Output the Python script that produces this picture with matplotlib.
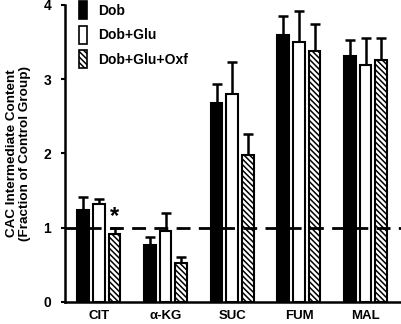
import matplotlib
matplotlib.use("Agg")
import matplotlib.pyplot as plt
import numpy as np
from matplotlib.patches import Patch

plt.rcParams['font.family'] = ['Liberation Sans', 'DejaVu Sans']
plt.rcParams['font.weight'] = 'bold'
plt.rcParams['hatch.linewidth'] = 1.1

categories = ["CIT", "α-KG", "SUC", "FUM", "MAL"]
series_names = ["Dob", "Dob+Glu", "Dob+Glu+Oxf"]
dob = [1.24, 0.77, 2.68, 3.59, 3.31]
dob_err = [0.17, 0.10, 0.25, 0.26, 0.22]
glu = [1.32, 0.96, 2.80, 3.50, 3.19]
glu_err = [0.07, 0.24, 0.43, 0.42, 0.36]
oxf = [0.91, 0.52, 1.98, 3.38, 3.26]
oxf_err = [0.09, 0.08, 0.28, 0.36, 0.29]
reference_level = 1.0
yticks = [0, 1, 2, 3, 4]

fig = plt.figure(figsize=(4.01, 3.24), dpi=100)
ax = fig.add_axes([0.162, 0.068, 0.838, 0.917])

x = np.arange(len(categories))
w = 0.175
off = 0.235
HATCH = '\\\\\\\\\\\\'
styles = [dict(color='black', edgecolor='black'),
          dict(color='white', edgecolor='black'),
          dict(color='white', edgecolor='black', hatch=HATCH)]
vals = [dob, glu, oxf]
errs = [dob_err, glu_err, oxf_err]
for i, (v, e, st) in enumerate(zip(vals, errs, styles)):
    pos = x + (i - 1) * off
    ax.bar(pos, v, width=w, linewidth=1.5, zorder=3, **st)
    ax.errorbar(pos, v, yerr=[np.zeros(len(v)), e], fmt='none', ecolor='black',
                elinewidth=1.8, capsize=3.5, capthick=1.8, zorder=2)

ax.axhline(reference_level, color='black', linestyle=(0, (5, 3)), linewidth=2, zorder=4)
ax.text(x[0] + off, oxf[0] + oxf_err[0] + 0.0, "*", ha='center', va='bottom',
        fontsize=17, fontweight='bold')

ax.set_xlim(-0.51, 4.53)
ax.set_ylim(0, 4)
ax.set_yticks(yticks)
ax.set_yticklabels([str(t) for t in yticks], fontsize=10, fontweight='bold')
ax.set_xticks(x)
ax.set_xticklabels(categories, fontsize=9.5, fontweight='bold')
ax.tick_params(axis='x', length=0, pad=6)
ax.tick_params(axis='y', length=3, width=1.5, pad=7)
for s in ['top', 'right']:
    ax.spines[s].set_visible(False)
for s in ['left', 'bottom']:
    ax.spines[s].set_linewidth(1.8)

ax.set_ylabel("CAC Intermediate Content\n(Fraction of Control Group)",
              fontsize=9.7, fontweight='bold', labelpad=9, linespacing=1.05)

handles = [Patch(facecolor=st['color'], edgecolor='black', hatch=st.get('hatch'), linewidth=1.2)
           for st in styles]
leg = ax.legend(handles, series_names, loc='upper left', bbox_to_anchor=(0.005, 1.055),
                frameon=False, handlelength=0.6, handleheight=1.65, labelspacing=0.45,
                handletextpad=0.75, prop=dict(weight='bold', size=10))

fig.savefig("out.png", dpi=100)
